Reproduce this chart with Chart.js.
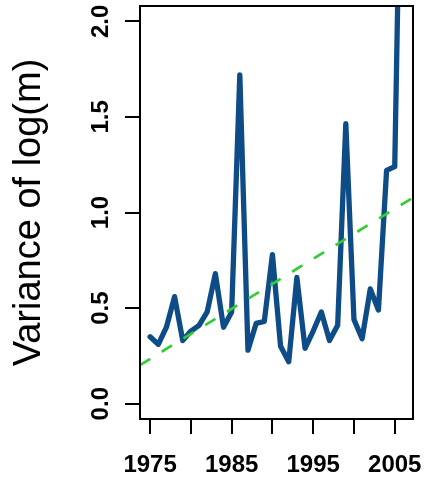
<!DOCTYPE html>
<html>
<head>
<meta charset="utf-8">
<script src="https://cdn.jsdelivr.net/npm/chart.js@4/dist/chart.umd.min.js"></script>
<style>
    html, body { margin: 0; padding: 0; background: #fff; }
    #wrap { width: 424px; height: 486px; }
</style>
</head>
<body>
<div id="wrap"><canvas id="varChart" width="424" height="486"></canvas></div>
<script>
// yearly variance of log(m)
const years = [1975, 1976, 1977, 1978, 1979, 1980, 1981, 1982, 1983, 1984, 1985,
    1986, 1987, 1988, 1989, 1990, 1991, 1992, 1993, 1994, 1995, 1996,
    1997, 1998, 1999, 2000, 2001, 2002, 2003, 2004, 2005, 2006];
const variance = [0.35, 0.31, 0.40, 0.56, 0.33, 0.38, 0.41, 0.48, 0.68, 0.40, 0.48,
    1.72, 0.28, 0.42, 0.43, 0.78, 0.30, 0.22, 0.66, 0.29, 0.38, 0.48,
    0.33, 0.41, 1.465, 0.44, 0.34, 0.60, 0.49, 1.22, 1.24, 3.6];

// fitted trend line, read at the two edges of the plot
const trendYears = [1973.76, 2007.24];
const trendValues = [0.202, 1.078];

const xTicks = [1975, 1980, 1985, 1990, 1995, 2000, 2005];
const xLabelled = [1975, 1985, 1995, 2005];
const yTicks = [0, 0.5, 1, 1.5, 2];

const FONT = "'Liberation Sans', Arial, Helvetica, sans-serif";

// R style box round the plot region
const boxPlugin = {
    id: 'box',
    afterDatasetsDraw(c) {
        const a = c.chartArea;
        const ctx = c.ctx;
        ctx.save();
        ctx.strokeStyle = '#000';
        ctx.lineWidth = 2;
        ctx.strokeRect(a.left, a.top, a.right - a.left, a.bottom - a.top);
        ctx.restore();
    }
};

// no extra room for overhanging end labels, the layout padding does it
function noScalePadding(s) {
    s.paddingLeft = 0;
    s.paddingRight = 0;
    s.paddingTop = 0;
    s.paddingBottom = 0;
}

const ctx = document.getElementById('varChart').getContext('2d');
new Chart(ctx, {
    type: 'line',
    data: {
        datasets: [
            {
                label: 'trend',
                data: trendYears.map((y, i) => ({x: y, y: trendValues[i]})),
                borderColor: '#32CD32',
                borderWidth: 2.7,
                borderDash: [12, 13.5],
                pointRadius: 0,
                clip: 0
            },
            {
                label: 'Variance of log(m)',
                data: years.map((y, i) => ({x: y, y: variance[i]})),
                borderColor: '#0E4C87',
                borderWidth: 5.3,
                borderJoinStyle: 'round',
                borderCapStyle: 'round',
                pointRadius: 0,
                tension: 0,
                clip: 0
            }
        ]
    },
    options: {
        responsive: false,
        animation: false,
        layout: {padding: {left: 0, right: 11, top: 6, bottom: 0}},
        plugins: {
            legend: {display: false},
            tooltip: {enabled: false}
        },
        scales: {
            x: {
                type: 'linear',
                min: 1973.76,
                max: 2007.24,
                afterFit: s => { s.height = 67; noScalePadding(s); },
                afterBuildTicks: s => { s.ticks = xTicks.map(v => ({value: v})); },
                border: {display: false},
                grid: {
                    drawOnChartArea: false,
                    color: '#000',
                    lineWidth: 2,
                    tickLength: 15
                },
                ticks: {
                    autoSkip: false,
                    maxRotation: 0,
                    padding: 17,
                    color: '#000',
                    font: {family: FONT, size: 24, weight: 'bold'},
                    callback: v => xLabelled.includes(v) ? String(v) : ''
                }
            },
            y: {
                type: 'linear',
                min: -0.08,
                max: 2.08,
                afterFit: s => { s.width = 140; noScalePadding(s); },
                afterBuildTicks: s => { s.ticks = yTicks.map(v => ({value: v})); },
                border: {display: false},
                grid: {
                    drawOnChartArea: false,
                    color: '#000',
                    lineWidth: 2,
                    tickLength: 15
                },
                ticks: {
                    autoSkip: false,
                    minRotation: 90,
                    maxRotation: 90,
                    crossAlign: 'center',
                    padding: 7,
                    color: '#000',
                    font: {family: FONT, size: 24, weight: 'bold'},
                    callback: v => v.toFixed(1)
                },
                title: {
                    display: true,
                    text: 'Variance of log(m)',
                    color: '#000',
                    font: {family: FONT, size: 38, weight: 'normal', lineHeight: 1.2},
                    padding: {top: 7, bottom: 0}
                }
            }
        }
    },
    plugins: [boxPlugin]
});
</script>
</body>
</html>
